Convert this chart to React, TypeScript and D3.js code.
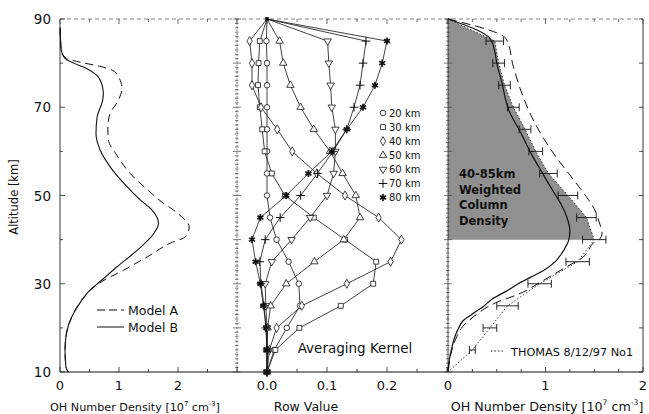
import React from "react";
import * as d3 from "d3";

// ---------- data ----------
const altTicks = [10, 30, 50, 70, 90];
const p1XTicks = [0, 1, 2];
const p2XTicks = [0.0, 0.1, 0.2];
const p3XTicks = [0, 1, 2];

// Panel 1 model profiles (altitude km, OH 10^7 cm^-3)
const modelAAlt = [88, 85, 83, 81.1, 80.2, 79.2, 78.3, 76.9, 74.3, 71.6, 68.6, 65.6, 62.6, 59.6, 55, 50.5, 49, 46, 42.9, 40.7, 39.2, 36.1, 33.1, 30.5, 28.6, 26.3, 22.5, 18.8, 15, 11.2, 10];
const modelAVal = [0, 0.01, 0.02, 0.1, 0.35, 0.7, 0.9, 0.99, 1.05, 0.99, 0.85, 0.81, 0.82, 0.94, 1.19, 1.55, 1.68, 1.99, 2.19, 2.13, 1.87, 1.48, 1.08, 0.71, 0.52, 0.37, 0.2, 0.11, 0.085, 0.1, 0.14];
const modelBAlt = [88, 85, 83, 81.1, 80, 78.8, 77.3, 74.7, 73, 71.4, 67.9, 64.1, 60.3, 56.5, 52.8, 49, 46.7, 43.7, 41.4, 37.6, 33.9, 30.5, 28.6, 26.3, 22.5, 18.8, 15, 11.2, 10];
const modelBVal = [0, 0.01, 0.02, 0.085, 0.23, 0.45, 0.62, 0.72, 0.735, 0.72, 0.63, 0.61, 0.68, 0.85, 1.08, 1.36, 1.56, 1.67, 1.59, 1.31, 0.97, 0.68, 0.51, 0.37, 0.2, 0.11, 0.085, 0.1, 0.14];

// Panel 2 averaging kernels
const kernelAlt = [90, 85, 80, 75, 70, 65, 60, 55, 50, 45, 40, 35, 30, 25, 20, 15, 10];
const k20 = [0, -0.001, 0, 0, 0, 0, 0, 0, 0, 0.005, 0.016, 0.036, 0.053, 0.055, 0.033, 0.012, 0];
const k30 = [0, -0.012, -0.014, -0.015, -0.012, -0.008, -0.004, 0.008, 0.03, 0.078, 0.13, 0.182, 0.177, 0.123, 0.054, 0.014, 0];
const k40 = [0, -0.029, -0.025, -0.025, -0.01, 0.017, 0.042, 0.083, 0.13, 0.186, 0.224, 0.206, 0.133, 0.058, 0.016, 0.004, 0];
const k50 = [0, 0.021, 0.027, 0.039, 0.056, 0.078, 0.105, 0.126, 0.148, 0.155, 0.128, 0.079, 0.032, 0.006, 0.001, 0, 0];
const k60 = [0, 0.101, 0.103, 0.106, 0.108, 0.114, 0.114, 0.111, 0.1, 0.072, 0.041, 0.008, -0.003, -0.002, 0, 0, 0];
const k70 = [0, 0.165, 0.16, 0.155, 0.145, 0.133, 0.11, 0.084, 0.056, 0.022, -0.003, -0.012, -0.01, -0.005, -0.002, 0, 0];
const k80 = [0, 0.2, 0.192, 0.18, 0.16, 0.133, 0.108, 0.069, 0.032, -0.011, -0.025, -0.019, -0.011, -0.006, -0.001, 0, 0];
const kernelLabels = ["20 km", "30 km", "40 km", "50 km", "60 km", "70 km", "80 km"];

// Panel 3 smoothed models and measurement
const smoothBAlt = [90, 85.6, 82.6, 80, 75.8, 69, 64.5, 59.2, 55.4, 50.9, 48, 45, 42, 40, 38.5, 37, 35, 33, 31.5, 30, 28.6, 26.5, 24.8, 23, 21.5, 20, 18, 15, 13, 10];
const smoothBVal = [0, 0.43, 0.48, 0.5, 0.55, 0.63, 0.74, 0.86, 0.96, 1.08, 1.16, 1.22, 1.25, 1.24, 1.21, 1.17, 1.1, 0.98, 0.85, 0.72, 0.62, 0.45, 0.36, 0.24, 0.15, 0.11, 0.07, 0.035, 0.015, 0];
const smoothAAlt = [90, 85.4, 79.2, 72.4, 65.6, 59.6, 53.5, 49.7, 47, 44, 41.4, 40, 39.2, 37.5, 36.1, 33.9, 30.8, 27.8, 25.6, 22.5, 20.3, 18, 15, 10];
const smoothAVal = [0, 0.6, 0.67, 0.77, 0.91, 1.08, 1.29, 1.42, 1.5, 1.55, 1.58, 1.55, 1.49, 1.44, 1.39, 1.22, 0.98, 0.74, 0.48, 0.26, 0.15, 0.09, 0.04, 0];
const thomasAlt = [90, 85, 80, 75, 70, 65, 60, 55, 50, 45, 40, 35, 30, 25, 20, 15, 10];
const thomasVal = [0, 0.48, 0.52, 0.58, 0.67, 0.79, 0.9, 1.03, 1.23, 1.42, 1.5, 1.33, 0.94, 0.61, 0.43, 0.25, 0];
const thomasErr = [0, 0.09, 0.06, 0.06, 0.06, 0.06, 0.07, 0.09, 0.1, 0.1, 0.12, 0.12, 0.12, 0.11, 0.07, 0.03, 0];

// ---------- helpers ----------
const FONT = "DejaVu Sans, Liberation Sans, Arial, sans-serif";
const zip = (a: number[], b: number[]) => a.map((v, i) => [v, b[i]] as [number, number]);

const Y0 = 372, Y1 = 19;
const y = d3.scaleLinear().domain([10, 90]).range([Y0, Y1]);
const x1 = d3.scaleLinear().domain([0, 3]).range([60, 237]);
const x2 = d3.scaleLinear().domain([-0.05, 0.3]).range([237, 447]);
const x3 = d3.scaleLinear().domain([0, 2]).range([448, 643]);

function lineFor(xs: d3.ScaleLinear<number, number>, curve: d3.CurveFactory) {
  return d3.line<[number, number]>().x((d) => xs(d[1])).y((d) => y(d[0])).curve(curve);
}

function symPath(type: d3.SymbolType, size: number) {
  return d3.symbol().type(type).size(size)() as string;
}

const kernelSeries = [k20, k30, k40, k50, k60, k70, k80];
const kernelSyms: { type: d3.SymbolType; rot: number; size: number; fill: string; sw: number }[] = [
  { type: d3.symbolCircle, rot: 0, size: 24, fill: "white", sw: 0.8 },
  { type: d3.symbolSquare, rot: 0, size: 24, fill: "white", sw: 0.8 },
  { type: d3.symbolDiamond, rot: 0, size: 24, fill: "white", sw: 0.8 },
  { type: d3.symbolTriangle, rot: 0, size: 24, fill: "white", sw: 0.8 },
  { type: d3.symbolTriangle, rot: 180, size: 24, fill: "white", sw: 0.8 },
  { type: d3.symbolPlus, rot: 0, size: 26, fill: "none", sw: 1 },
  { type: d3.symbolAsterisk, rot: 0, size: 34, fill: "#111", sw: 1.7 },
];

function Marker({ i, cx, cy }: { i: number; cx: number; cy: number }) {
  const s = kernelSyms[i];
  return (
    <path
      d={symPath(s.type, s.size)}
      transform={`translate(${cx},${cy}) rotate(${s.rot})`}
      fill={s.fill}
      stroke="#111"
      strokeWidth={s.sw}
    />
  );
}

function Label({ x, y: yy, children, size = 12.5, anchor = "middle", weight = 400 }: any) {
  return (
    <text x={x} y={yy} fontFamily={FONT} fontSize={size} textAnchor={anchor} fontWeight={weight} fill="#111">
      {children}
    </text>
  );
}

function DensityTitle({ cx, size }: { cx: number; size: number }) {
  return (
    <text x={cx} y={411} fontFamily={FONT} fontSize={size} textAnchor="middle" fill="#111">
      OH Number Density [10
      <tspan fontSize={size * 0.6} dy={-size * 0.45}>7</tspan>
      <tspan dy={size * 0.45}> cm</tspan>
      <tspan fontSize={size * 0.6} dy={-size * 0.45}>-3</tspan>
      <tspan dy={size * 0.45}>]</tspan>
    </text>
  );
}

export default function App() {
  const l1 = lineFor(x1, d3.curveMonotoneY);
  const l2 = lineFor(x2, d3.curveLinear);
  const l3s = lineFor(x3, d3.curveMonotoneY);
  const l3 = lineFor(x3, d3.curveLinear);

  const shadePts = zip(thomasAlt, thomasVal).filter((d) => d[0] >= 40);
  const shade = d3
    .area<[number, number]>()
    .x0(() => x3(0))
    .x1((d) => x3(d[1]))
    .y((d) => y(d[0]))(shadePts) as string;

  const minorKm = d3.range(10, 91, 1);
  const tenKm = d3.range(10, 91, 10);

  return (
    <svg width={649} height={414} style={{ position: "absolute", left: 0, top: 0, background: "white" }}>
      <rect x={0} y={0} width={649} height={414} fill="white" />

      {/* shading (40-85 km weighted column) */}
      <path d={shade} fill="#909090" />

      {/* frame: bottom axis */}
      <line x1={60} x2={643} y1={Y0} y2={Y0} stroke="#111" strokeWidth={1} />
      {/* top axis (faint) */}
      <line x1={60} x2={643} y1={Y1} y2={Y1} stroke="#666" strokeWidth={0.8} strokeDasharray="4,3" />
      {/* right axis */}
      <line x1={643} x2={643} y1={Y1} y2={Y0} stroke="#222" strokeWidth={0.9} />
      {tenKm.map((a) => (
        <line key={"r" + a} x1={643} x2={639} y1={y(a)} y2={y(a)} stroke="#222" strokeWidth={0.8} />
      ))}

      {/* panel 1 left axis */}
      <line x1={60} x2={60} y1={Y1} y2={Y0} stroke="#222" strokeWidth={0.9} />
      {tenKm.map((a) => (
        <line key={"l1" + a} x1={60} x2={altTicks.includes(a) ? 65 : 63} y1={y(a)} y2={y(a)} stroke="#222" strokeWidth={0.8} />
      ))}
      {altTicks.map((a) => (
        <Label key={"yl" + a} x={51} y={y(a) + 5} anchor="end" size={13.5}>{a}</Label>
      ))}
      <text transform={`translate(18,197) rotate(-90)`} fontFamily={FONT} fontSize={11.5} textAnchor="middle" fill="#111">
        Altitude [km]
      </text>

      {/* panel 2 & 3 left axes with km ticks */}
      {[237, 448].map((ax, j) => (
        <g key={"ax" + ax}>
          <line x1={ax} x2={ax} y1={Y1} y2={Y0} stroke={j === 0 ? "#555" : "#222"} strokeWidth={0.8} strokeDasharray={j === 0 ? "2,1.5" : undefined} />
          {minorKm.map((a) => (
            <line key={a} x1={ax - (a % 10 === 0 ? 4 : 2)} x2={ax + (a % 10 === 0 ? 4 : 1.5)} y1={y(a)} y2={y(a)} stroke="#444" strokeWidth={0.7} />
          ))}
        </g>
      ))}

      {/* x ticks bottom & top */}
      {d3.range(0, 3.01, 0.5).map((v) => (
        <g key={"t1" + v}>
          <line x1={x1(v)} x2={x1(v)} y1={Y0} y2={Y0 - (v % 1 === 0 ? 5 : 3)} stroke="#222" strokeWidth={0.8} />
          <line x1={x1(v)} x2={x1(v)} y1={Y1} y2={Y1 + (v % 1 === 0 ? 5 : 3)} stroke="#444" strokeWidth={0.8} />
        </g>
      ))}
      {d3.range(0, 0.301, 0.05).map((v, i) => (
        <g key={"t2" + i}>
          <line x1={x2(v)} x2={x2(v)} y1={Y0} y2={Y0 - (i % 2 === 0 ? 5 : 3)} stroke="#222" strokeWidth={0.8} />
          <line x1={x2(v)} x2={x2(v)} y1={Y1} y2={Y1 + (i % 2 === 0 ? 5 : 3)} stroke="#444" strokeWidth={0.8} />
        </g>
      ))}
      {d3.range(0, 2.01, 0.25).map((v, i) => (
        <g key={"t3" + i}>
          <line x1={x3(v)} x2={x3(v)} y1={Y0} y2={Y0 - (i % 4 === 0 ? 5 : 3)} stroke="#222" strokeWidth={0.8} />
          <line x1={x3(v)} x2={x3(v)} y1={Y1} y2={Y1 + (i % 4 === 0 ? 5 : 3)} stroke="#444" strokeWidth={0.8} />
        </g>
      ))}

      {p1XTicks.map((v) => (
        <Label key={"x1" + v} x={x1(v)} y={390} size={13}>{v}</Label>
      ))}
      {p2XTicks.map((v) => (
        <Label key={"x2" + v} x={x2(v)} y={390} size={13}>{v.toFixed(1)}</Label>
      ))}
      {p3XTicks.map((v) => (
        <Label key={"x3" + v} x={x3(v)} y={390} size={13}>{v}</Label>
      ))}
      <DensityTitle cx={135} size={11.2} />
      <Label x={306} y={411} size={12.5}>Row Value</Label>
      <DensityTitle cx={547} size={12.7} />

      {/* ---- panel 1 curves ---- */}
      <path d={l1(zip(modelAAlt, modelAVal)) as string} fill="none" stroke="#111" strokeWidth={1} strokeDasharray="8,5" />
      <path d={l1(zip(modelBAlt, modelBVal)) as string} fill="none" stroke="#111" strokeWidth={1.1} />
      <line x1={97} x2={124} y1={310} y2={310} stroke="#111" strokeWidth={1} strokeDasharray="8,4" />
      <Label x={128} y={314.5} anchor="start" size={12.5}>Model A</Label>
      <line x1={97} x2={124} y1={327} y2={327} stroke="#111" strokeWidth={1} />
      <Label x={128} y={331.5} anchor="start" size={12.5}>Model B</Label>

      {/* ---- panel 2 kernels ---- */}
      {kernelSeries.map((vals, i) => (
        <path key={"kl" + i} d={l2(zip(kernelAlt, vals)) as string} fill="none" stroke="#111" strokeWidth={0.8} />
      ))}
      {kernelSeries.map((vals, i) => (
        <g key={"km" + i}>
          {vals.map((v, j) =>
            kernelAlt[j] === 90 ? null : <Marker key={j} i={i} cx={x2(v)} cy={y(kernelAlt[j])} />
          )}
        </g>
      ))}
      <path d={symPath(d3.symbolSquare, 14)} transform={`translate(${x2(0)},${y(90)})`} fill="#111" />
      {kernelLabels.map((lab, i) => (
        <g key={"leg" + i}>
          <Marker i={i} cx={383} cy={113 + i * 14.1} />
          <Label x={389} y={113 + i * 14.1 + 3.8} anchor="start" size={10}>{lab}</Label>
        </g>
      ))}
      <Label x={355} y={353} size={13.5}>Averaging Kernel</Label>

      {/* ---- panel 3 ---- */}
      <path d={l3s(zip(smoothAAlt, smoothAVal)) as string} fill="none" stroke="#111" strokeWidth={1} strokeDasharray="9,5" />
      <path d={l3s(zip(smoothBAlt, smoothBVal)) as string} fill="none" stroke="#111" strokeWidth={1.2} />
      <path d={l3(zip(thomasAlt, thomasVal)) as string} fill="none" stroke="#222" strokeWidth={0.9} strokeDasharray="1.5,2" />
      {thomasAlt.map((a, i) =>
        thomasErr[i] > 0 ? (
          <g key={"eb" + i} stroke="#111" strokeWidth={0.9}>
            <line x1={x3(thomasVal[i] - thomasErr[i])} x2={x3(thomasVal[i] + thomasErr[i])} y1={y(a)} y2={y(a)} />
            <line x1={x3(thomasVal[i] - thomasErr[i])} x2={x3(thomasVal[i] - thomasErr[i])} y1={y(a) - 4} y2={y(a) + 4} />
            <line x1={x3(thomasVal[i] + thomasErr[i])} x2={x3(thomasVal[i] + thomasErr[i])} y1={y(a) - 4} y2={y(a) + 4} />
          </g>
        ) : null
      )}
      {["40-85km", "Weighted", "Column", "Density"].map((t, i) => (
        <Label key={t} x={459} y={178 + i * 15.5} anchor="start" size={11.5} weight={700}>{t}</Label>
      ))}
      <line x1={491} x2={504} y1={351} y2={351} stroke="#222" strokeWidth={1} strokeDasharray="1.5,2" />
      <Label x={511} y={355.5} anchor="start" size={11.3}>THOMAS 8/12/97 No1</Label>
    </svg>
  );
}
